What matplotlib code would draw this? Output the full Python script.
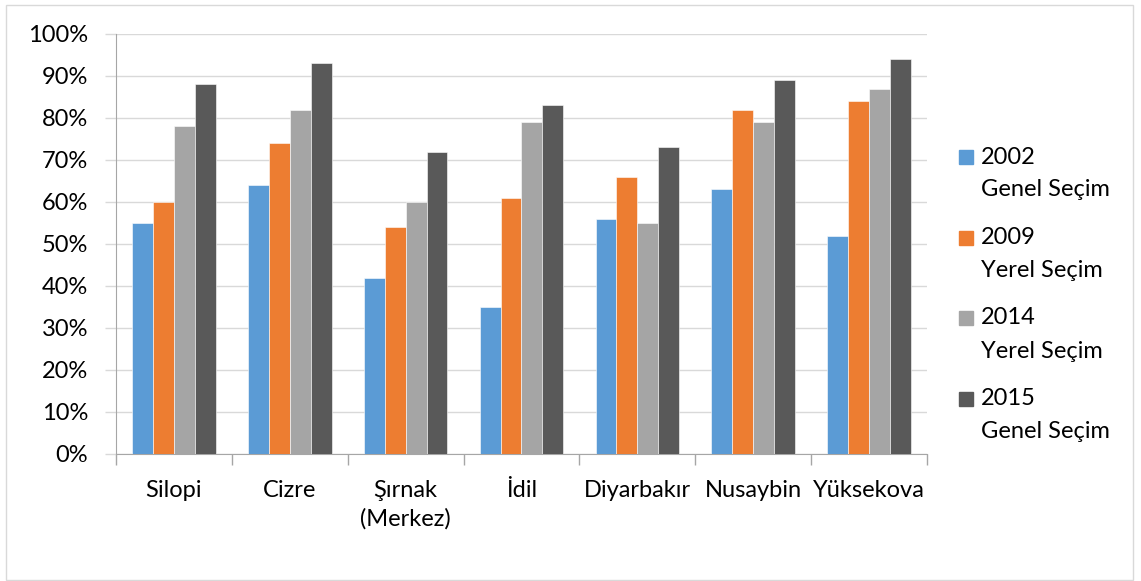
import matplotlib
matplotlib.use('Agg')
import matplotlib.pyplot as plt
import matplotlib.patches as mpatches
from matplotlib.ticker import PercentFormatter
import numpy as np

plt.rcParams['font.family'] = ['Lato', 'DejaVu Sans']

ILCELER = ['Silopi', 'Cizre', 'Şırnak\n(Merkez)', 'İdil', 'Diyarbakır', 'Nusaybin', 'Yüksekova']
SECIMLER = ['2002\nGenel Seçim', '2009\nYerel Seçim', '2014\nYerel Seçim', '2015\nGenel Seçim']
RENKLER = ['#5B9BD5', '#ED7D31', '#A5A5A5', '#595959']

oy_2002 = [55, 64, 42, 35, 56, 63, 52]
oy_2009 = [60, 74, 54, 61, 66, 82, 84]
oy_2014 = [78, 82, 60, 79, 55, 79, 87]
oy_2015 = [88, 93, 72, 83, 73, 89, 94]
SERILER = [oy_2002, oy_2009, oy_2014, oy_2015]

FS = 17

fig = plt.figure(figsize=(11.41, 5.81), dpi=100)
ax = fig.add_axes([0.1017, 0.2186, 0.7107, 0.7229])

x = np.arange(len(ILCELER))
genislik = 0.18
for i, (seri, renk) in enumerate(zip(SERILER, RENKLER)):
    ax.bar(x + (i - 1.5) * genislik, seri, genislik, color=renk,
           edgecolor='white', linewidth=0.4, zorder=3)

ax.set_xlim(-0.5, len(ILCELER) - 0.5)
ax.set_ylim(0, 100)
ax.set_yticks(range(0, 101, 10))
ax.yaxis.set_major_formatter(PercentFormatter(decimals=0))
ax.grid(axis='y', color='#D9D9D9', linewidth=1, zorder=0)

ax.set_xticks(np.arange(len(ILCELER) + 1) - 0.5)
ax.set_xticklabels([])
ax.set_xticks(x, minor=True)
ax.set_xticklabels(ILCELER, minor=True, fontsize=FS, va='top', linespacing=1.4)
ax.tick_params(axis='x', which='minor', length=0, pad=19)
ax.tick_params(axis='x', which='major', length=8, color='#A6A6A6', width=1)
ax.tick_params(axis='y', length=8, color='#D9D9D9', width=1, labelsize=FS, pad=12)

for s in ['top', 'right']:
    ax.spines[s].set_visible(False)
ax.spines['left'].set_color('#A6A6A6')
ax.spines['bottom'].set_color('#A6A6A6')

# lejant
for i, (ad, renk) in enumerate(zip(SECIMLER, RENKLER)):
    y0 = 1 - (157 + i * 80.5) / 581
    fig.patches.append(mpatches.Rectangle((959 / 1141, y0 - 7 / 581), 14 / 1141, 14 / 581,
                                          transform=fig.transFigure, color=renk))
    ust, alt = ad.split('\n')
    fig.text(981 / 1141, y0, ust, fontsize=FS, va='center')
    fig.text(981 / 1141, y0 - 33 / 581, alt, fontsize=FS, va='center')

# dis cerceve
fig.patches.append(mpatches.Rectangle((6 / 1141, 1 / 581), 1127 / 1141, 575 / 581,
                                      transform=fig.transFigure, fill=False,
                                      edgecolor='#D9D9D9', linewidth=1))

fig.savefig('out.png', dpi=100)
